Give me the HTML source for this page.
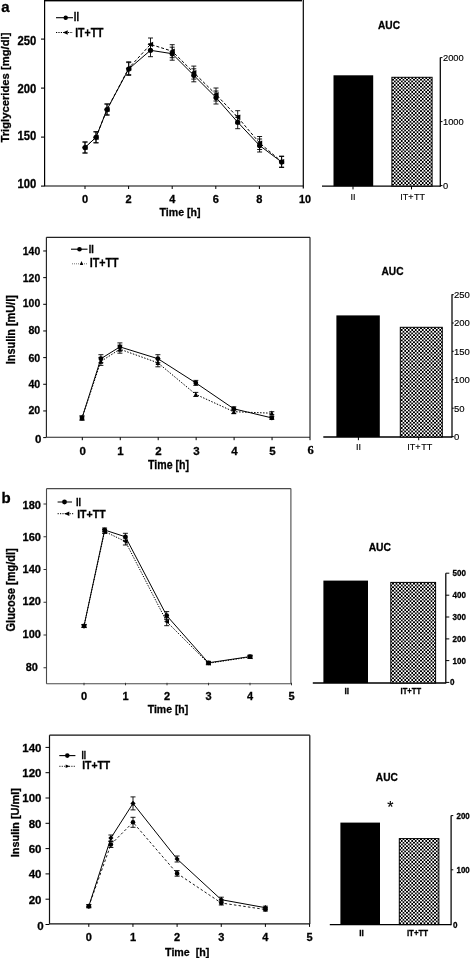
<!DOCTYPE html>
<html><head><meta charset="utf-8"><title>Figure</title>
<style>html,body{margin:0;padding:0;background:#fff;}svg{display:block;filter:grayscale(1);}</style></head><body>
<svg width="472" height="958" viewBox="0 0 472 958">
<defs><pattern id="chk" width="7" height="7" patternUnits="userSpaceOnUse" shape-rendering="crispEdges"><rect x="0" y="0" width="1" height="1" fill="#e4e4e4"/><rect x="1" y="0" width="1" height="1" fill="#d9d9d9"/><rect x="2" y="0" width="1" height="1" fill="#000000"/><rect x="3" y="0" width="1" height="1" fill="#616161"/><rect x="4" y="0" width="1" height="1" fill="#fafafa"/><rect x="5" y="0" width="1" height="1" fill="#535353"/><rect x="6" y="0" width="1" height="1" fill="#000000"/><rect x="0" y="1" width="1" height="1" fill="#d9d9d9"/><rect x="1" y="1" width="1" height="1" fill="#cfcfcf"/><rect x="2" y="1" width="1" height="1" fill="#000000"/><rect x="3" y="1" width="1" height="1" fill="#646464"/><rect x="4" y="1" width="1" height="1" fill="#fafafa"/><rect x="5" y="1" width="1" height="1" fill="#585858"/><rect x="6" y="1" width="1" height="1" fill="#020202"/><rect x="0" y="2" width="1" height="1" fill="#000000"/><rect x="1" y="2" width="1" height="1" fill="#000000"/><rect x="2" y="2" width="1" height="1" fill="#fafafa"/><rect x="3" y="2" width="1" height="1" fill="#a4a4a4"/><rect x="4" y="2" width="1" height="1" fill="#000000"/><rect x="5" y="2" width="1" height="1" fill="#b7b7b7"/><rect x="6" y="2" width="1" height="1" fill="#fafafa"/><rect x="0" y="3" width="1" height="1" fill="#616161"/><rect x="1" y="3" width="1" height="1" fill="#646464"/><rect x="2" y="3" width="1" height="1" fill="#a4a4a4"/><rect x="3" y="3" width="1" height="1" fill="#858585"/><rect x="4" y="3" width="1" height="1" fill="#535353"/><rect x="5" y="3" width="1" height="1" fill="#888888"/><rect x="6" y="3" width="1" height="1" fill="#a2a2a2"/><rect x="0" y="4" width="1" height="1" fill="#fafafa"/><rect x="1" y="4" width="1" height="1" fill="#fafafa"/><rect x="2" y="4" width="1" height="1" fill="#000000"/><rect x="3" y="4" width="1" height="1" fill="#535353"/><rect x="4" y="4" width="1" height="1" fill="#fafafa"/><rect x="5" y="4" width="1" height="1" fill="#3e3e3e"/><rect x="6" y="4" width="1" height="1" fill="#000000"/><rect x="0" y="5" width="1" height="1" fill="#535353"/><rect x="1" y="5" width="1" height="1" fill="#585858"/><rect x="2" y="5" width="1" height="1" fill="#b7b7b7"/><rect x="3" y="5" width="1" height="1" fill="#888888"/><rect x="4" y="5" width="1" height="1" fill="#3e3e3e"/><rect x="5" y="5" width="1" height="1" fill="#8e8e8e"/><rect x="6" y="5" width="1" height="1" fill="#b5b5b5"/><rect x="0" y="6" width="1" height="1" fill="#000000"/><rect x="1" y="6" width="1" height="1" fill="#020202"/><rect x="2" y="6" width="1" height="1" fill="#fafafa"/><rect x="3" y="6" width="1" height="1" fill="#a2a2a2"/><rect x="4" y="6" width="1" height="1" fill="#000000"/><rect x="5" y="6" width="1" height="1" fill="#b5b5b5"/><rect x="6" y="6" width="1" height="1" fill="#fafafa"/></pattern></defs>
<rect width="472" height="958" fill="#fff"/>
<g opacity="0.999">
<rect x="44.6" y="0" width="257.4" height="1.4" fill="#000"/>
<line x1="44.6" y1="0" x2="44.6" y2="186" stroke="#000" stroke-width="1.2"/>
<line x1="44.1" y1="186" x2="303.3" y2="186" stroke="#000" stroke-width="1.2"/>
<line x1="303.3" y1="0" x2="303.3" y2="188.5" stroke="#000" stroke-width="1.2"/>
<text x="1.2" y="11.6" font-size="15" text-anchor="start" font-family='"Liberation Sans", sans-serif' fill="#000" font-weight="bold" stroke="#000" stroke-width="0.3" >a</text>
<line x1="41.0" y1="186.1" x2="44.6" y2="186.1" stroke="#000" stroke-width="1.1"/>
<text x="36.3" y="188.3" font-size="12" text-anchor="end" font-family='"Liberation Sans", sans-serif' fill="#000" font-weight="bold" stroke="#000" stroke-width="0.3" textLength="18.8" lengthAdjust="spacingAndGlyphs" >100</text>
<line x1="41.0" y1="137.1" x2="44.6" y2="137.1" stroke="#000" stroke-width="1.1"/>
<text x="36.3" y="139.9" font-size="12" text-anchor="end" font-family='"Liberation Sans", sans-serif' fill="#000" font-weight="bold" stroke="#000" stroke-width="0.3" textLength="18.8" lengthAdjust="spacingAndGlyphs" >150</text>
<line x1="41.0" y1="88.1" x2="44.6" y2="88.1" stroke="#000" stroke-width="1.1"/>
<text x="36.3" y="92.5" font-size="12" text-anchor="end" font-family='"Liberation Sans", sans-serif' fill="#000" font-weight="bold" stroke="#000" stroke-width="0.3" textLength="18.8" lengthAdjust="spacingAndGlyphs" >200</text>
<line x1="41.0" y1="39.099999999999994" x2="44.6" y2="39.099999999999994" stroke="#000" stroke-width="1.1"/>
<text x="36.3" y="44.699999999999996" font-size="12" text-anchor="end" font-family='"Liberation Sans", sans-serif' fill="#000" font-weight="bold" stroke="#000" stroke-width="0.3" textLength="18.8" lengthAdjust="spacingAndGlyphs" >250</text>
<line x1="85.0" y1="186" x2="85.0" y2="189" stroke="#000" stroke-width="1"/>
<text x="85.0" y="203.2" font-size="11" text-anchor="middle" font-family='"Liberation Sans", sans-serif' fill="#000" font-weight="bold" stroke="#000" stroke-width="0.3" >0</text>
<line x1="128.6" y1="186" x2="128.6" y2="189" stroke="#000" stroke-width="1"/>
<text x="128.6" y="203.2" font-size="11" text-anchor="middle" font-family='"Liberation Sans", sans-serif' fill="#000" font-weight="bold" stroke="#000" stroke-width="0.3" >2</text>
<line x1="172.2" y1="186" x2="172.2" y2="189" stroke="#000" stroke-width="1"/>
<text x="172.2" y="203.2" font-size="11" text-anchor="middle" font-family='"Liberation Sans", sans-serif' fill="#000" font-weight="bold" stroke="#000" stroke-width="0.3" >4</text>
<line x1="215.8" y1="186" x2="215.8" y2="189" stroke="#000" stroke-width="1"/>
<text x="215.8" y="203.2" font-size="11" text-anchor="middle" font-family='"Liberation Sans", sans-serif' fill="#000" font-weight="bold" stroke="#000" stroke-width="0.3" >6</text>
<line x1="259.4" y1="186" x2="259.4" y2="189" stroke="#000" stroke-width="1"/>
<text x="259.4" y="203.2" font-size="11" text-anchor="middle" font-family='"Liberation Sans", sans-serif' fill="#000" font-weight="bold" stroke="#000" stroke-width="0.3" >8</text>
<text x="305.0" y="203.2" font-size="11" text-anchor="middle" font-family='"Liberation Sans", sans-serif' fill="#000" font-weight="bold" stroke="#000" stroke-width="0.3" textLength="12" lengthAdjust="spacingAndGlyphs" >10</text>
<text x="180" y="216.2" font-size="11.5" text-anchor="middle" font-family='"Liberation Sans", sans-serif' fill="#000" font-weight="bold" stroke="#000" stroke-width="0.3" textLength="41" lengthAdjust="spacingAndGlyphs" >Time [h]</text>
<text x="9" y="87.6" font-size="11" text-anchor="middle" font-family='"Liberation Sans", sans-serif' fill="#000" font-weight="bold" stroke="#000" stroke-width="0.3" textLength="110" lengthAdjust="spacingAndGlyphs" transform="rotate(-90 9 87.6)" >Triglycerides [mg/dl]</text>
<line x1="56" y1="17.7" x2="73" y2="17.7" stroke="#000" stroke-width="1.1"/>
<circle cx="65.7" cy="17.7" r="2.2" fill="#000"/>
<text x="73.8" y="21.3" font-size="12" text-anchor="start" font-family='"Liberation Sans", sans-serif' fill="#000" font-weight="bold" stroke="#000" stroke-width="0.3" textLength="5.2" lengthAdjust="spacingAndGlyphs" >II</text>
<line x1="56" y1="32.5" x2="73" y2="32.5" stroke="#000" stroke-width="1" stroke-dasharray="1.2,1.2"/>
<path d="M62.9,32.5 L67.7,30.3 L67.7,34.7 Z" fill="#000"/>
<text x="75.2" y="36.9" font-size="12" text-anchor="start" font-family='"Liberation Sans", sans-serif' fill="#000" font-weight="bold" stroke="#000" stroke-width="0.3" textLength="28.3" lengthAdjust="spacingAndGlyphs" >IT+TT</text>
<polyline points="85,147.5 96,137.3 107,109.5 128.7,68.2 150.5,44.4 172.2,51.2 193.8,72.6 216,94.5 237.7,117.2 259.6,143 281.6,161.6" fill="none" stroke="#000" stroke-width="1" stroke-dasharray="3,2"/>
<line x1="85" y1="142.0" x2="85" y2="153.0" stroke="#000" stroke-width="0.9"/>
<line x1="82.5" y1="142.0" x2="87.5" y2="142.0" stroke="#000" stroke-width="0.9"/>
<line x1="82.5" y1="153.0" x2="87.5" y2="153.0" stroke="#000" stroke-width="0.9"/>
<path d="M82.0,147.5 L87.6,144.9 L87.6,150.1 Z" fill="#000"/>
<line x1="96" y1="131.8" x2="96" y2="142.8" stroke="#000" stroke-width="0.9"/>
<line x1="93.5" y1="131.8" x2="98.5" y2="131.8" stroke="#000" stroke-width="0.9"/>
<line x1="93.5" y1="142.8" x2="98.5" y2="142.8" stroke="#000" stroke-width="0.9"/>
<path d="M93.0,137.3 L98.6,134.70000000000002 L98.6,139.9 Z" fill="#000"/>
<line x1="107" y1="104.0" x2="107" y2="115.0" stroke="#000" stroke-width="0.9"/>
<line x1="104.5" y1="104.0" x2="109.5" y2="104.0" stroke="#000" stroke-width="0.9"/>
<line x1="104.5" y1="115.0" x2="109.5" y2="115.0" stroke="#000" stroke-width="0.9"/>
<path d="M104.0,109.5 L109.6,106.9 L109.6,112.1 Z" fill="#000"/>
<line x1="128.7" y1="61.800000000000004" x2="128.7" y2="74.60000000000001" stroke="#000" stroke-width="0.9"/>
<line x1="126.19999999999999" y1="61.800000000000004" x2="131.2" y2="61.800000000000004" stroke="#000" stroke-width="0.9"/>
<line x1="126.19999999999999" y1="74.60000000000001" x2="131.2" y2="74.60000000000001" stroke="#000" stroke-width="0.9"/>
<path d="M125.69999999999999,68.2 L131.29999999999998,65.60000000000001 L131.29999999999998,70.8 Z" fill="#000"/>
<line x1="150.5" y1="38.0" x2="150.5" y2="50.8" stroke="#000" stroke-width="0.9"/>
<line x1="148.0" y1="38.0" x2="153.0" y2="38.0" stroke="#000" stroke-width="0.9"/>
<line x1="148.0" y1="50.8" x2="153.0" y2="50.8" stroke="#000" stroke-width="0.9"/>
<path d="M147.5,44.4 L153.1,41.8 L153.1,47.0 Z" fill="#000"/>
<line x1="172.2" y1="44.7" x2="172.2" y2="57.7" stroke="#000" stroke-width="0.9"/>
<line x1="169.7" y1="44.7" x2="174.7" y2="44.7" stroke="#000" stroke-width="0.9"/>
<line x1="169.7" y1="57.7" x2="174.7" y2="57.7" stroke="#000" stroke-width="0.9"/>
<path d="M169.2,51.2 L174.79999999999998,48.6 L174.79999999999998,53.800000000000004 Z" fill="#000"/>
<line x1="193.8" y1="66.1" x2="193.8" y2="79.1" stroke="#000" stroke-width="0.9"/>
<line x1="191.3" y1="66.1" x2="196.3" y2="66.1" stroke="#000" stroke-width="0.9"/>
<line x1="191.3" y1="79.1" x2="196.3" y2="79.1" stroke="#000" stroke-width="0.9"/>
<path d="M190.8,72.6 L196.4,70.0 L196.4,75.19999999999999 Z" fill="#000"/>
<line x1="216" y1="88.0" x2="216" y2="101.0" stroke="#000" stroke-width="0.9"/>
<line x1="213.5" y1="88.0" x2="218.5" y2="88.0" stroke="#000" stroke-width="0.9"/>
<line x1="213.5" y1="101.0" x2="218.5" y2="101.0" stroke="#000" stroke-width="0.9"/>
<path d="M213.0,94.5 L218.6,91.9 L218.6,97.1 Z" fill="#000"/>
<line x1="237.7" y1="110.7" x2="237.7" y2="123.7" stroke="#000" stroke-width="0.9"/>
<line x1="235.2" y1="110.7" x2="240.2" y2="110.7" stroke="#000" stroke-width="0.9"/>
<line x1="235.2" y1="123.7" x2="240.2" y2="123.7" stroke="#000" stroke-width="0.9"/>
<path d="M234.7,117.2 L240.29999999999998,114.60000000000001 L240.29999999999998,119.8 Z" fill="#000"/>
<line x1="259.6" y1="136.5" x2="259.6" y2="149.5" stroke="#000" stroke-width="0.9"/>
<line x1="257.1" y1="136.5" x2="262.1" y2="136.5" stroke="#000" stroke-width="0.9"/>
<line x1="257.1" y1="149.5" x2="262.1" y2="149.5" stroke="#000" stroke-width="0.9"/>
<path d="M256.6,143 L262.20000000000005,140.4 L262.20000000000005,145.6 Z" fill="#000"/>
<line x1="281.6" y1="156.1" x2="281.6" y2="167.1" stroke="#000" stroke-width="0.9"/>
<line x1="279.1" y1="156.1" x2="284.1" y2="156.1" stroke="#000" stroke-width="0.9"/>
<line x1="279.1" y1="167.1" x2="284.1" y2="167.1" stroke="#000" stroke-width="0.9"/>
<path d="M278.6,161.6 L284.20000000000005,159.0 L284.20000000000005,164.2 Z" fill="#000"/>
<polyline points="85,147.5 96,137.3 107,109.5 128.7,69 150.5,50.3 172.2,53.7 193.8,75.3 216,97.5 237.7,122.2 259.6,145.5 281.6,162" fill="none" stroke="#000" stroke-width="1"/>
<line x1="85" y1="142.0" x2="85" y2="153.0" stroke="#000" stroke-width="0.9"/>
<line x1="82.5" y1="142.0" x2="87.5" y2="142.0" stroke="#000" stroke-width="0.9"/>
<line x1="82.5" y1="153.0" x2="87.5" y2="153.0" stroke="#000" stroke-width="0.9"/>
<circle cx="85" cy="147.5" r="2.6" fill="#000"/>
<line x1="96" y1="131.8" x2="96" y2="142.8" stroke="#000" stroke-width="0.9"/>
<line x1="93.5" y1="131.8" x2="98.5" y2="131.8" stroke="#000" stroke-width="0.9"/>
<line x1="93.5" y1="142.8" x2="98.5" y2="142.8" stroke="#000" stroke-width="0.9"/>
<circle cx="96" cy="137.3" r="2.6" fill="#000"/>
<line x1="107" y1="104.0" x2="107" y2="115.0" stroke="#000" stroke-width="0.9"/>
<line x1="104.5" y1="104.0" x2="109.5" y2="104.0" stroke="#000" stroke-width="0.9"/>
<line x1="104.5" y1="115.0" x2="109.5" y2="115.0" stroke="#000" stroke-width="0.9"/>
<circle cx="107" cy="109.5" r="2.6" fill="#000"/>
<line x1="128.7" y1="62.6" x2="128.7" y2="75.4" stroke="#000" stroke-width="0.9"/>
<line x1="126.19999999999999" y1="62.6" x2="131.2" y2="62.6" stroke="#000" stroke-width="0.9"/>
<line x1="126.19999999999999" y1="75.4" x2="131.2" y2="75.4" stroke="#000" stroke-width="0.9"/>
<circle cx="128.7" cy="69" r="2.6" fill="#000"/>
<line x1="150.5" y1="43.9" x2="150.5" y2="56.699999999999996" stroke="#000" stroke-width="0.9"/>
<line x1="148.0" y1="43.9" x2="153.0" y2="43.9" stroke="#000" stroke-width="0.9"/>
<line x1="148.0" y1="56.699999999999996" x2="153.0" y2="56.699999999999996" stroke="#000" stroke-width="0.9"/>
<circle cx="150.5" cy="50.3" r="2.6" fill="#000"/>
<line x1="172.2" y1="47.2" x2="172.2" y2="60.2" stroke="#000" stroke-width="0.9"/>
<line x1="169.7" y1="47.2" x2="174.7" y2="47.2" stroke="#000" stroke-width="0.9"/>
<line x1="169.7" y1="60.2" x2="174.7" y2="60.2" stroke="#000" stroke-width="0.9"/>
<circle cx="172.2" cy="53.7" r="2.6" fill="#000"/>
<line x1="193.8" y1="68.8" x2="193.8" y2="81.8" stroke="#000" stroke-width="0.9"/>
<line x1="191.3" y1="68.8" x2="196.3" y2="68.8" stroke="#000" stroke-width="0.9"/>
<line x1="191.3" y1="81.8" x2="196.3" y2="81.8" stroke="#000" stroke-width="0.9"/>
<circle cx="193.8" cy="75.3" r="2.6" fill="#000"/>
<line x1="216" y1="91.0" x2="216" y2="104.0" stroke="#000" stroke-width="0.9"/>
<line x1="213.5" y1="91.0" x2="218.5" y2="91.0" stroke="#000" stroke-width="0.9"/>
<line x1="213.5" y1="104.0" x2="218.5" y2="104.0" stroke="#000" stroke-width="0.9"/>
<circle cx="216" cy="97.5" r="2.6" fill="#000"/>
<line x1="237.7" y1="115.7" x2="237.7" y2="128.7" stroke="#000" stroke-width="0.9"/>
<line x1="235.2" y1="115.7" x2="240.2" y2="115.7" stroke="#000" stroke-width="0.9"/>
<line x1="235.2" y1="128.7" x2="240.2" y2="128.7" stroke="#000" stroke-width="0.9"/>
<circle cx="237.7" cy="122.2" r="2.6" fill="#000"/>
<line x1="259.6" y1="139.0" x2="259.6" y2="152.0" stroke="#000" stroke-width="0.9"/>
<line x1="257.1" y1="139.0" x2="262.1" y2="139.0" stroke="#000" stroke-width="0.9"/>
<line x1="257.1" y1="152.0" x2="262.1" y2="152.0" stroke="#000" stroke-width="0.9"/>
<circle cx="259.6" cy="145.5" r="2.6" fill="#000"/>
<line x1="281.6" y1="156.5" x2="281.6" y2="167.5" stroke="#000" stroke-width="0.9"/>
<line x1="279.1" y1="156.5" x2="284.1" y2="156.5" stroke="#000" stroke-width="0.9"/>
<line x1="279.1" y1="167.5" x2="284.1" y2="167.5" stroke="#000" stroke-width="0.9"/>
<circle cx="281.6" cy="162" r="2.6" fill="#000"/>
<line x1="440.3" y1="57.6" x2="440.3" y2="186.79999999999998" stroke="#000" stroke-width="1.25"/>
<line x1="322" y1="186.2" x2="440.3" y2="186.2" stroke="#000" stroke-width="1.3"/>
<line x1="440.3" y1="57.6" x2="442.5" y2="57.6" stroke="#000" stroke-width="1"/>
<text x="443" y="60.948" font-size="9.3" text-anchor="start" font-family='"Liberation Sans", sans-serif' fill="#000" stroke="#000" stroke-width="0.15" >2000</text>
<line x1="440.3" y1="121.6" x2="442.5" y2="121.6" stroke="#000" stroke-width="1"/>
<text x="443" y="124.948" font-size="9.3" text-anchor="start" font-family='"Liberation Sans", sans-serif' fill="#000" stroke="#000" stroke-width="0.15" >1000</text>
<line x1="440.3" y1="185.6" x2="442.5" y2="185.6" stroke="#000" stroke-width="1"/>
<text x="443" y="188.948" font-size="9.3" text-anchor="start" font-family='"Liberation Sans", sans-serif' fill="#000" stroke="#000" stroke-width="0.15" >0</text>
<rect x="333.5" y="75.3" width="39.69999999999999" height="110.89999999999999" fill="#000"/>
<rect x="391.9" y="77.3" width="40.200000000000045" height="108.89999999999999" fill="url(#chk)" stroke="#000" stroke-width="1"/>
<text x="389" y="29" font-size="11" text-anchor="middle" font-family='"Liberation Sans", sans-serif' fill="#000" font-weight="bold" stroke="#000" stroke-width="0.3" textLength="22" lengthAdjust="spacingAndGlyphs" >AUC</text>
<line x1="353" y1="186.2" x2="353" y2="189.39999999999998" stroke="#000" stroke-width="1"/>
<line x1="411.5" y1="186.2" x2="411.5" y2="189.39999999999998" stroke="#000" stroke-width="1"/>
<text x="353" y="200.3" font-size="9" text-anchor="middle" font-family='"Liberation Sans", sans-serif' fill="#000" stroke="#000" stroke-width="0.15" stroke="#000" stroke-width="0.4">II</text>
<text x="406.8" y="200.3" font-size="9" text-anchor="middle" font-family='"Liberation Sans", sans-serif' fill="#000" stroke="#000" stroke-width="0.15" stroke="#000" stroke-width="0.4">IT+</text>
<text x="419.6" y="200.3" font-size="9" text-anchor="middle" font-family='"Liberation Sans", sans-serif' fill="#000" stroke="#000" stroke-width="0.15" stroke="#000" stroke-width="0.4">TT</text>
<line x1="46.4" y1="237.3" x2="46.4" y2="437.2" stroke="#222" stroke-width="1.15"/>
<line x1="46.4" y1="437.2" x2="310" y2="437.2" stroke="#222" stroke-width="1.15"/>
<line x1="310" y1="237.3" x2="310" y2="437.2" stroke="#222" stroke-width="1.15"/>
<line x1="46.4" y1="237.3" x2="310" y2="237.3" stroke="#222" stroke-width="1.15"/>
<line x1="43.199999999999996" y1="437.6" x2="46.4" y2="437.6" stroke="#000" stroke-width="1"/>
<text x="41.3" y="443.1" font-size="11.5" text-anchor="end" font-family='"Liberation Sans", sans-serif' fill="#000" font-weight="bold" stroke="#000" stroke-width="0.3" >0</text>
<line x1="43.199999999999996" y1="410.94" x2="46.4" y2="410.94" stroke="#000" stroke-width="1"/>
<text x="40.2" y="414.3" font-size="11.5" text-anchor="end" font-family='"Liberation Sans", sans-serif' fill="#000" font-weight="bold" stroke="#000" stroke-width="0.3" textLength="11.8" lengthAdjust="spacingAndGlyphs" >20</text>
<line x1="43.199999999999996" y1="384.28000000000003" x2="46.4" y2="384.28000000000003" stroke="#000" stroke-width="1"/>
<text x="40.2" y="388.1" font-size="11.5" text-anchor="end" font-family='"Liberation Sans", sans-serif' fill="#000" font-weight="bold" stroke="#000" stroke-width="0.3" textLength="11.8" lengthAdjust="spacingAndGlyphs" >40</text>
<line x1="43.199999999999996" y1="357.62" x2="46.4" y2="357.62" stroke="#000" stroke-width="1"/>
<text x="40.2" y="362.1" font-size="11.5" text-anchor="end" font-family='"Liberation Sans", sans-serif' fill="#000" font-weight="bold" stroke="#000" stroke-width="0.3" textLength="11.8" lengthAdjust="spacingAndGlyphs" >60</text>
<line x1="43.199999999999996" y1="330.96000000000004" x2="46.4" y2="330.96000000000004" stroke="#000" stroke-width="1"/>
<text x="40.2" y="334.3" font-size="11.5" text-anchor="end" font-family='"Liberation Sans", sans-serif' fill="#000" font-weight="bold" stroke="#000" stroke-width="0.3" textLength="11.8" lengthAdjust="spacingAndGlyphs" >80</text>
<line x1="43.199999999999996" y1="304.30000000000007" x2="46.4" y2="304.30000000000007" stroke="#000" stroke-width="1"/>
<text x="40.2" y="307.0" font-size="11.5" text-anchor="end" font-family='"Liberation Sans", sans-serif' fill="#000" font-weight="bold" stroke="#000" stroke-width="0.3" textLength="17.4" lengthAdjust="spacingAndGlyphs" >100</text>
<line x1="43.199999999999996" y1="277.64" x2="46.4" y2="277.64" stroke="#000" stroke-width="1"/>
<text x="40.2" y="281.6" font-size="11.5" text-anchor="end" font-family='"Liberation Sans", sans-serif' fill="#000" font-weight="bold" stroke="#000" stroke-width="0.3" textLength="17.4" lengthAdjust="spacingAndGlyphs" >120</text>
<line x1="43.199999999999996" y1="250.98000000000002" x2="46.4" y2="250.98000000000002" stroke="#000" stroke-width="1"/>
<text x="40.2" y="254.5" font-size="11.5" text-anchor="end" font-family='"Liberation Sans", sans-serif' fill="#000" font-weight="bold" stroke="#000" stroke-width="0.3" textLength="17.4" lengthAdjust="spacingAndGlyphs" >140</text>
<line x1="82.3" y1="437.2" x2="82.3" y2="440.2" stroke="#000" stroke-width="1"/>
<text x="82.6" y="454.7" font-size="11.5" text-anchor="middle" font-family='"Liberation Sans", sans-serif' fill="#000" font-weight="bold" stroke="#000" stroke-width="0.3" >0</text>
<line x1="120.25" y1="437.2" x2="120.25" y2="440.2" stroke="#000" stroke-width="1"/>
<text x="120.55" y="454.7" font-size="11.5" text-anchor="middle" font-family='"Liberation Sans", sans-serif' fill="#000" font-weight="bold" stroke="#000" stroke-width="0.3" >1</text>
<line x1="158.20000000000002" y1="437.2" x2="158.20000000000002" y2="440.2" stroke="#000" stroke-width="1"/>
<text x="158.5" y="454.7" font-size="11.5" text-anchor="middle" font-family='"Liberation Sans", sans-serif' fill="#000" font-weight="bold" stroke="#000" stroke-width="0.3" >2</text>
<line x1="196.15000000000003" y1="437.2" x2="196.15000000000003" y2="440.2" stroke="#000" stroke-width="1"/>
<text x="196.45000000000002" y="454.7" font-size="11.5" text-anchor="middle" font-family='"Liberation Sans", sans-serif' fill="#000" font-weight="bold" stroke="#000" stroke-width="0.3" >3</text>
<line x1="234.10000000000002" y1="437.2" x2="234.10000000000002" y2="440.2" stroke="#000" stroke-width="1"/>
<text x="234.4" y="454.7" font-size="11.5" text-anchor="middle" font-family='"Liberation Sans", sans-serif' fill="#000" font-weight="bold" stroke="#000" stroke-width="0.3" >4</text>
<line x1="272.05" y1="437.2" x2="272.05" y2="440.2" stroke="#000" stroke-width="1"/>
<text x="272.35" y="454.7" font-size="11.5" text-anchor="middle" font-family='"Liberation Sans", sans-serif' fill="#000" font-weight="bold" stroke="#000" stroke-width="0.3" >5</text>
<line x1="310.00000000000006" y1="437.2" x2="310.00000000000006" y2="440.2" stroke="#000" stroke-width="1"/>
<text x="310.50000000000006" y="454.4" font-size="12.5" text-anchor="middle" font-family='"Liberation Serif", serif' fill="#000" font-weight="bold" stroke="#000" stroke-width="0.3" >6</text>
<text x="168.5" y="468.6" font-size="12" text-anchor="middle" font-family='"Liberation Sans", sans-serif' fill="#000" font-weight="bold" stroke="#000" stroke-width="0.3" textLength="41" lengthAdjust="spacingAndGlyphs" >Time [h]</text>
<text x="14.6" y="329.7" font-size="12" text-anchor="middle" font-family='"Liberation Sans", sans-serif' fill="#000" font-weight="bold" stroke="#000" stroke-width="0.3" textLength="69" lengthAdjust="spacingAndGlyphs" transform="rotate(-90 14.6 329.7)" >Insulin [mU/l]</text>
<line x1="71" y1="249.2" x2="87.5" y2="249.2" stroke="#000" stroke-width="1.1"/>
<circle cx="79.5" cy="249.2" r="2.3" fill="#000"/>
<text x="88.8" y="253" font-size="11.5" text-anchor="start" font-family='"Liberation Sans", sans-serif' fill="#000" font-weight="bold" stroke="#000" stroke-width="0.3" textLength="5.1" lengthAdjust="spacingAndGlyphs" >II</text>
<line x1="72" y1="263.8" x2="88" y2="263.8" stroke="#666" stroke-width="0.9" stroke-dasharray="1,1"/>
<path d="M81.5,261.1 L83.2,264.9 L79.8,264.9 Z" fill="#000"/>
<text x="89.7" y="267.3" font-size="12" text-anchor="start" font-family='"Liberation Sans", sans-serif' fill="#000" font-weight="bold" stroke="#000" stroke-width="0.3" textLength="28.8" lengthAdjust="spacingAndGlyphs" >IT+TT</text>
<polyline points="82,418 100.9,361.4 119.9,349.2 157.9,362.8 195.8,394.4 233.8,411.7 271.8,413.2" fill="none" stroke="#000" stroke-width="1" stroke-dasharray="1.5,1.5"/>
<line x1="82" y1="416" x2="82" y2="420" stroke="#000" stroke-width="0.9"/>
<line x1="79.5" y1="416" x2="84.5" y2="416" stroke="#000" stroke-width="0.9"/>
<line x1="79.5" y1="420" x2="84.5" y2="420" stroke="#000" stroke-width="0.9"/>
<path d="M82,415.3 L84.3,420.3 L79.7,420.3 Z" fill="#000"/>
<line x1="100.9" y1="357.4" x2="100.9" y2="365.4" stroke="#000" stroke-width="0.9"/>
<line x1="98.4" y1="357.4" x2="103.4" y2="357.4" stroke="#000" stroke-width="0.9"/>
<line x1="98.4" y1="365.4" x2="103.4" y2="365.4" stroke="#000" stroke-width="0.9"/>
<path d="M100.9,358.7 L103.2,363.7 L98.60000000000001,363.7 Z" fill="#000"/>
<line x1="119.9" y1="345.2" x2="119.9" y2="353.2" stroke="#000" stroke-width="0.9"/>
<line x1="117.4" y1="345.2" x2="122.4" y2="345.2" stroke="#000" stroke-width="0.9"/>
<line x1="117.4" y1="353.2" x2="122.4" y2="353.2" stroke="#000" stroke-width="0.9"/>
<path d="M119.9,346.5 L122.2,351.5 L117.60000000000001,351.5 Z" fill="#000"/>
<line x1="157.9" y1="358.8" x2="157.9" y2="366.8" stroke="#000" stroke-width="0.9"/>
<line x1="155.4" y1="358.8" x2="160.4" y2="358.8" stroke="#000" stroke-width="0.9"/>
<line x1="155.4" y1="366.8" x2="160.4" y2="366.8" stroke="#000" stroke-width="0.9"/>
<path d="M157.9,360.1 L160.20000000000002,365.1 L155.6,365.1 Z" fill="#000"/>
<line x1="195.8" y1="392.4" x2="195.8" y2="396.4" stroke="#000" stroke-width="0.9"/>
<line x1="193.3" y1="392.4" x2="198.3" y2="392.4" stroke="#000" stroke-width="0.9"/>
<line x1="193.3" y1="396.4" x2="198.3" y2="396.4" stroke="#000" stroke-width="0.9"/>
<path d="M195.8,391.7 L198.10000000000002,396.7 L193.5,396.7 Z" fill="#000"/>
<line x1="233.8" y1="409.7" x2="233.8" y2="413.7" stroke="#000" stroke-width="0.9"/>
<line x1="231.3" y1="409.7" x2="236.3" y2="409.7" stroke="#000" stroke-width="0.9"/>
<line x1="231.3" y1="413.7" x2="236.3" y2="413.7" stroke="#000" stroke-width="0.9"/>
<path d="M233.8,409.0 L236.10000000000002,414.0 L231.5,414.0 Z" fill="#000"/>
<line x1="271.8" y1="411.7" x2="271.8" y2="414.7" stroke="#000" stroke-width="0.9"/>
<line x1="269.3" y1="411.7" x2="274.3" y2="411.7" stroke="#000" stroke-width="0.9"/>
<line x1="269.3" y1="414.7" x2="274.3" y2="414.7" stroke="#000" stroke-width="0.9"/>
<path d="M271.8,410.5 L274.1,415.5 L269.5,415.5 Z" fill="#000"/>
<polyline points="82,418 100.9,358.7 119.9,346.9 157.9,358.7 195.8,382.9 233.8,408.8 271.8,417.9" fill="none" stroke="#000" stroke-width="1"/>
<line x1="82" y1="416" x2="82" y2="420" stroke="#000" stroke-width="0.9"/>
<line x1="79.5" y1="416" x2="84.5" y2="416" stroke="#000" stroke-width="0.9"/>
<line x1="79.5" y1="420" x2="84.5" y2="420" stroke="#000" stroke-width="0.9"/>
<circle cx="82" cy="418" r="2.4" fill="#000"/>
<line x1="100.9" y1="354.7" x2="100.9" y2="362.7" stroke="#000" stroke-width="0.9"/>
<line x1="98.4" y1="354.7" x2="103.4" y2="354.7" stroke="#000" stroke-width="0.9"/>
<line x1="98.4" y1="362.7" x2="103.4" y2="362.7" stroke="#000" stroke-width="0.9"/>
<circle cx="100.9" cy="358.7" r="2.4" fill="#000"/>
<line x1="119.9" y1="342.9" x2="119.9" y2="350.9" stroke="#000" stroke-width="0.9"/>
<line x1="117.4" y1="342.9" x2="122.4" y2="342.9" stroke="#000" stroke-width="0.9"/>
<line x1="117.4" y1="350.9" x2="122.4" y2="350.9" stroke="#000" stroke-width="0.9"/>
<circle cx="119.9" cy="346.9" r="2.4" fill="#000"/>
<line x1="157.9" y1="354.7" x2="157.9" y2="362.7" stroke="#000" stroke-width="0.9"/>
<line x1="155.4" y1="354.7" x2="160.4" y2="354.7" stroke="#000" stroke-width="0.9"/>
<line x1="155.4" y1="362.7" x2="160.4" y2="362.7" stroke="#000" stroke-width="0.9"/>
<circle cx="157.9" cy="358.7" r="2.4" fill="#000"/>
<line x1="195.8" y1="380.4" x2="195.8" y2="385.4" stroke="#000" stroke-width="0.9"/>
<line x1="193.3" y1="380.4" x2="198.3" y2="380.4" stroke="#000" stroke-width="0.9"/>
<line x1="193.3" y1="385.4" x2="198.3" y2="385.4" stroke="#000" stroke-width="0.9"/>
<circle cx="195.8" cy="382.9" r="2.4" fill="#000"/>
<line x1="233.8" y1="406.8" x2="233.8" y2="410.8" stroke="#000" stroke-width="0.9"/>
<line x1="231.3" y1="406.8" x2="236.3" y2="406.8" stroke="#000" stroke-width="0.9"/>
<line x1="231.3" y1="410.8" x2="236.3" y2="410.8" stroke="#000" stroke-width="0.9"/>
<circle cx="233.8" cy="408.8" r="2.4" fill="#000"/>
<line x1="271.8" y1="416.4" x2="271.8" y2="419.4" stroke="#000" stroke-width="0.9"/>
<line x1="269.3" y1="416.4" x2="274.3" y2="416.4" stroke="#000" stroke-width="0.9"/>
<line x1="269.3" y1="419.4" x2="274.3" y2="419.4" stroke="#000" stroke-width="0.9"/>
<circle cx="271.8" cy="417.9" r="2.4" fill="#000"/>
<line x1="452" y1="294.3" x2="452" y2="437.6" stroke="#000" stroke-width="1.25"/>
<line x1="323.3" y1="437" x2="452" y2="437" stroke="#000" stroke-width="1.3"/>
<line x1="452" y1="294.7" x2="453.8" y2="294.7" stroke="#000" stroke-width="1"/>
<text x="454" y="298.12" font-size="9.5" text-anchor="start" font-family='"Liberation Sans", sans-serif' fill="#000" stroke="#000" stroke-width="0.15" >250</text>
<line x1="452" y1="323" x2="453.8" y2="323" stroke="#000" stroke-width="1"/>
<text x="454" y="326.42" font-size="9.5" text-anchor="start" font-family='"Liberation Sans", sans-serif' fill="#000" stroke="#000" stroke-width="0.15" >200</text>
<line x1="452" y1="351.3" x2="453.8" y2="351.3" stroke="#000" stroke-width="1"/>
<text x="454" y="354.72" font-size="9.5" text-anchor="start" font-family='"Liberation Sans", sans-serif' fill="#000" stroke="#000" stroke-width="0.15" >150</text>
<line x1="452" y1="379.7" x2="453.8" y2="379.7" stroke="#000" stroke-width="1"/>
<text x="454" y="383.12" font-size="9.5" text-anchor="start" font-family='"Liberation Sans", sans-serif' fill="#000" stroke="#000" stroke-width="0.15" >100</text>
<line x1="452" y1="408.2" x2="453.8" y2="408.2" stroke="#000" stroke-width="1"/>
<text x="454" y="411.62" font-size="9.5" text-anchor="start" font-family='"Liberation Sans", sans-serif' fill="#000" stroke="#000" stroke-width="0.15" >50</text>
<line x1="452" y1="436.6" x2="453.8" y2="436.6" stroke="#000" stroke-width="1"/>
<text x="454" y="440.02000000000004" font-size="9.5" text-anchor="start" font-family='"Liberation Sans", sans-serif' fill="#000" stroke="#000" stroke-width="0.15" >0</text>
<rect x="336.4" y="315.4" width="43.400000000000034" height="121.60000000000002" fill="#000"/>
<rect x="400.3" y="327.3" width="42.0" height="109.69999999999999" fill="url(#chk)" stroke="#000" stroke-width="1"/>
<text x="392.5" y="275.4" font-size="11" text-anchor="middle" font-family='"Liberation Sans", sans-serif' fill="#000" font-weight="bold" stroke="#000" stroke-width="0.3" textLength="22" lengthAdjust="spacingAndGlyphs" >AUC</text>
<line x1="358.4" y1="437" x2="358.4" y2="440.2" stroke="#000" stroke-width="1"/>
<line x1="418.7" y1="437" x2="418.7" y2="440.2" stroke="#000" stroke-width="1"/>
<text x="358.4" y="450" font-size="9" text-anchor="middle" font-family='"Liberation Sans", sans-serif' fill="#000" stroke="#000" stroke-width="0.15" stroke="#000" stroke-width="0.4">II</text>
<text x="414.0" y="450" font-size="9" text-anchor="middle" font-family='"Liberation Sans", sans-serif' fill="#000" stroke="#000" stroke-width="0.15" stroke="#000" stroke-width="0.4">IT+</text>
<text x="426.8" y="450" font-size="9" text-anchor="middle" font-family='"Liberation Sans", sans-serif' fill="#000" stroke="#000" stroke-width="0.15" stroke="#000" stroke-width="0.4">TT</text>
<line x1="46.5" y1="488.6" x2="46.5" y2="683.8" stroke="#4a4a4a" stroke-width="1.1"/>
<line x1="46.5" y1="683.8" x2="290.9" y2="683.8" stroke="#4a4a4a" stroke-width="1.1"/>
<line x1="290.9" y1="488.6" x2="290.9" y2="683.8" stroke="#4a4a4a" stroke-width="1.1"/>
<line x1="46.5" y1="488.6" x2="290.9" y2="488.6" stroke="#4a4a4a" stroke-width="1.1"/>
<text x="1.5" y="503" font-size="15" text-anchor="start" font-family='"Liberation Sans", sans-serif' fill="#000" font-weight="bold" stroke="#000" stroke-width="0.3" >b</text>
<line x1="43.5" y1="667.75" x2="46.5" y2="667.75" stroke="#333" stroke-width="1"/>
<text x="31.8" y="671.3" font-size="11" text-anchor="middle" font-family='"Liberation Sans", sans-serif' fill="#000" font-weight="bold" stroke="#000" stroke-width="0.3" textLength="12.2" lengthAdjust="spacingAndGlyphs" >80</text>
<line x1="43.5" y1="635.0" x2="46.5" y2="635.0" stroke="#333" stroke-width="1"/>
<text x="31.8" y="638.0" font-size="11" text-anchor="middle" font-family='"Liberation Sans", sans-serif' fill="#000" font-weight="bold" stroke="#000" stroke-width="0.3" textLength="18.4" lengthAdjust="spacingAndGlyphs" >100</text>
<line x1="43.5" y1="602.25" x2="46.5" y2="602.25" stroke="#333" stroke-width="1"/>
<text x="31.8" y="604.8" font-size="11" text-anchor="middle" font-family='"Liberation Sans", sans-serif' fill="#000" font-weight="bold" stroke="#000" stroke-width="0.3" textLength="18.4" lengthAdjust="spacingAndGlyphs" >120</text>
<line x1="43.5" y1="569.5" x2="46.5" y2="569.5" stroke="#333" stroke-width="1"/>
<text x="31.8" y="572.7" font-size="11" text-anchor="middle" font-family='"Liberation Sans", sans-serif' fill="#000" font-weight="bold" stroke="#000" stroke-width="0.3" textLength="18.4" lengthAdjust="spacingAndGlyphs" >140</text>
<line x1="43.5" y1="536.75" x2="46.5" y2="536.75" stroke="#333" stroke-width="1"/>
<text x="31.8" y="540.6" font-size="11" text-anchor="middle" font-family='"Liberation Sans", sans-serif' fill="#000" font-weight="bold" stroke="#000" stroke-width="0.3" textLength="18.4" lengthAdjust="spacingAndGlyphs" >160</text>
<line x1="43.5" y1="504.0" x2="46.5" y2="504.0" stroke="#333" stroke-width="1"/>
<text x="31.8" y="508.7" font-size="11" text-anchor="middle" font-family='"Liberation Sans", sans-serif' fill="#000" font-weight="bold" stroke="#000" stroke-width="0.3" textLength="18.4" lengthAdjust="spacingAndGlyphs" >180</text>
<line x1="84.0" y1="682.8" x2="84.0" y2="685.3" stroke="#333" stroke-width="1"/>
<text x="84.0" y="700.4" font-size="11" text-anchor="middle" font-family='"Liberation Sans", sans-serif' fill="#000" font-weight="bold" stroke="#000" stroke-width="0.3" >0</text>
<line x1="125.5" y1="682.8" x2="125.5" y2="685.3" stroke="#333" stroke-width="1"/>
<text x="125.5" y="700.4" font-size="11" text-anchor="middle" font-family='"Liberation Sans", sans-serif' fill="#000" font-weight="bold" stroke="#000" stroke-width="0.3" >1</text>
<line x1="167.0" y1="682.8" x2="167.0" y2="685.3" stroke="#333" stroke-width="1"/>
<text x="167.0" y="700.4" font-size="11" text-anchor="middle" font-family='"Liberation Sans", sans-serif' fill="#000" font-weight="bold" stroke="#000" stroke-width="0.3" >2</text>
<line x1="208.5" y1="682.8" x2="208.5" y2="685.3" stroke="#333" stroke-width="1"/>
<text x="208.5" y="700.4" font-size="11" text-anchor="middle" font-family='"Liberation Sans", sans-serif' fill="#000" font-weight="bold" stroke="#000" stroke-width="0.3" >3</text>
<line x1="250.0" y1="682.8" x2="250.0" y2="685.3" stroke="#333" stroke-width="1"/>
<text x="250.0" y="700.4" font-size="11" text-anchor="middle" font-family='"Liberation Sans", sans-serif' fill="#000" font-weight="bold" stroke="#000" stroke-width="0.3" >4</text>
<line x1="291.5" y1="682.8" x2="291.5" y2="685.3" stroke="#333" stroke-width="1"/>
<text x="291.5" y="700.4" font-size="11" text-anchor="middle" font-family='"Liberation Sans", sans-serif' fill="#000" font-weight="bold" stroke="#000" stroke-width="0.3" >5</text>
<text x="168" y="713.4" font-size="11" text-anchor="middle" font-family='"Liberation Sans", sans-serif' fill="#000" font-weight="bold" stroke="#000" stroke-width="0.3" textLength="40.5" lengthAdjust="spacingAndGlyphs" >Time [h]</text>
<text x="14.6" y="589.9" font-size="12" text-anchor="middle" font-family='"Liberation Sans", sans-serif' fill="#000" font-weight="bold" stroke="#000" stroke-width="0.3" textLength="83.2" lengthAdjust="spacingAndGlyphs" transform="rotate(-90 14.6 589.9)" >Glucose [mg/dl]</text>
<line x1="57.6" y1="502" x2="72" y2="502" stroke="#000" stroke-width="1"/>
<circle cx="64.5" cy="502" r="2.4" fill="#000"/>
<text x="76" y="506.3" font-size="11.5" text-anchor="start" font-family='"Liberation Sans", sans-serif' fill="#000" font-weight="bold" stroke="#000" stroke-width="0.3" textLength="5.1" lengthAdjust="spacingAndGlyphs" >II</text>
<line x1="57.6" y1="513.7" x2="74" y2="513.7" stroke="#000" stroke-width="1" stroke-dasharray="1.2,1.2"/>
<path d="M64.3,513.7 L69.3,511.40000000000003 L69.3,516.0 Z" fill="#000"/>
<text x="77.2" y="518" font-size="11.5" text-anchor="start" font-family='"Liberation Sans", sans-serif' fill="#000" font-weight="bold" stroke="#000" stroke-width="0.3" textLength="28.4" lengthAdjust="spacingAndGlyphs" >IT+TT</text>
<polyline points="84,626 104.6,531.5 125.4,541.5 166.7,621.7 208.4,663.3 250,657" fill="none" stroke="#000" stroke-width="1" stroke-dasharray="1.3,1.3"/>
<line x1="84" y1="624.5" x2="84" y2="627.5" stroke="#000" stroke-width="0.9"/>
<line x1="81.5" y1="624.5" x2="86.5" y2="624.5" stroke="#000" stroke-width="0.9"/>
<line x1="81.5" y1="627.5" x2="86.5" y2="627.5" stroke="#000" stroke-width="0.9"/>
<path d="M81.3,626 L86.3,623.7 L86.3,628.3 Z" fill="#000"/>
<line x1="104.6" y1="529.5" x2="104.6" y2="533.5" stroke="#000" stroke-width="0.9"/>
<line x1="102.1" y1="529.5" x2="107.1" y2="529.5" stroke="#000" stroke-width="0.9"/>
<line x1="102.1" y1="533.5" x2="107.1" y2="533.5" stroke="#000" stroke-width="0.9"/>
<path d="M101.89999999999999,531.5 L106.89999999999999,529.2 L106.89999999999999,533.8 Z" fill="#000"/>
<line x1="125.4" y1="538.0" x2="125.4" y2="545.0" stroke="#000" stroke-width="0.9"/>
<line x1="122.9" y1="538.0" x2="127.9" y2="538.0" stroke="#000" stroke-width="0.9"/>
<line x1="122.9" y1="545.0" x2="127.9" y2="545.0" stroke="#000" stroke-width="0.9"/>
<path d="M122.7,541.5 L127.7,539.2 L127.7,543.8 Z" fill="#000"/>
<line x1="166.7" y1="617.7" x2="166.7" y2="625.7" stroke="#000" stroke-width="0.9"/>
<line x1="164.2" y1="617.7" x2="169.2" y2="617.7" stroke="#000" stroke-width="0.9"/>
<line x1="164.2" y1="625.7" x2="169.2" y2="625.7" stroke="#000" stroke-width="0.9"/>
<path d="M163.99999999999997,621.7 L169.0,619.4000000000001 L169.0,624.0 Z" fill="#000"/>
<line x1="208.4" y1="661.8" x2="208.4" y2="664.8" stroke="#000" stroke-width="0.9"/>
<line x1="205.9" y1="661.8" x2="210.9" y2="661.8" stroke="#000" stroke-width="0.9"/>
<line x1="205.9" y1="664.8" x2="210.9" y2="664.8" stroke="#000" stroke-width="0.9"/>
<path d="M205.7,663.3 L210.70000000000002,661.0 L210.70000000000002,665.5999999999999 Z" fill="#000"/>
<line x1="250" y1="655.5" x2="250" y2="658.5" stroke="#000" stroke-width="0.9"/>
<line x1="247.5" y1="655.5" x2="252.5" y2="655.5" stroke="#000" stroke-width="0.9"/>
<line x1="247.5" y1="658.5" x2="252.5" y2="658.5" stroke="#000" stroke-width="0.9"/>
<path d="M247.29999999999998,657 L252.3,654.7 L252.3,659.3 Z" fill="#000"/>
<polyline points="84,626 104.6,530 125.4,536.8 166.7,615.6 208.4,662.8 250,656.6" fill="none" stroke="#000" stroke-width="1"/>
<line x1="84" y1="624.5" x2="84" y2="627.5" stroke="#000" stroke-width="0.9"/>
<line x1="81.5" y1="624.5" x2="86.5" y2="624.5" stroke="#000" stroke-width="0.9"/>
<line x1="81.5" y1="627.5" x2="86.5" y2="627.5" stroke="#000" stroke-width="0.9"/>
<circle cx="84" cy="626" r="2.4" fill="#000"/>
<line x1="104.6" y1="528" x2="104.6" y2="532" stroke="#000" stroke-width="0.9"/>
<line x1="102.1" y1="528" x2="107.1" y2="528" stroke="#000" stroke-width="0.9"/>
<line x1="102.1" y1="532" x2="107.1" y2="532" stroke="#000" stroke-width="0.9"/>
<circle cx="104.6" cy="530" r="2.4" fill="#000"/>
<line x1="125.4" y1="533.3" x2="125.4" y2="540.3" stroke="#000" stroke-width="0.9"/>
<line x1="122.9" y1="533.3" x2="127.9" y2="533.3" stroke="#000" stroke-width="0.9"/>
<line x1="122.9" y1="540.3" x2="127.9" y2="540.3" stroke="#000" stroke-width="0.9"/>
<circle cx="125.4" cy="536.8" r="2.4" fill="#000"/>
<line x1="166.7" y1="611.6" x2="166.7" y2="619.6" stroke="#000" stroke-width="0.9"/>
<line x1="164.2" y1="611.6" x2="169.2" y2="611.6" stroke="#000" stroke-width="0.9"/>
<line x1="164.2" y1="619.6" x2="169.2" y2="619.6" stroke="#000" stroke-width="0.9"/>
<circle cx="166.7" cy="615.6" r="2.4" fill="#000"/>
<line x1="208.4" y1="661.3" x2="208.4" y2="664.3" stroke="#000" stroke-width="0.9"/>
<line x1="205.9" y1="661.3" x2="210.9" y2="661.3" stroke="#000" stroke-width="0.9"/>
<line x1="205.9" y1="664.3" x2="210.9" y2="664.3" stroke="#000" stroke-width="0.9"/>
<circle cx="208.4" cy="662.8" r="2.4" fill="#000"/>
<line x1="250" y1="655.1" x2="250" y2="658.1" stroke="#000" stroke-width="0.9"/>
<line x1="247.5" y1="655.1" x2="252.5" y2="655.1" stroke="#000" stroke-width="0.9"/>
<line x1="247.5" y1="658.1" x2="252.5" y2="658.1" stroke="#000" stroke-width="0.9"/>
<circle cx="250" cy="656.6" r="2.4" fill="#000"/>
<line x1="445.8" y1="573.2" x2="445.8" y2="683.6" stroke="#000" stroke-width="1.25"/>
<line x1="312.8" y1="683" x2="445.8" y2="683" stroke="#000" stroke-width="1.3"/>
<line x1="445.8" y1="573.2" x2="449.3" y2="573.2" stroke="#000" stroke-width="1"/>
<text x="452.6" y="576.26" font-size="8.5" text-anchor="start" font-family='"Liberation Sans", sans-serif' fill="#000" font-weight="bold" stroke="#000" stroke-width="0.3" textLength="13.4" lengthAdjust="spacingAndGlyphs" >500</text>
<line x1="445.8" y1="595.2" x2="449.3" y2="595.2" stroke="#000" stroke-width="1"/>
<text x="452.6" y="598.26" font-size="8.5" text-anchor="start" font-family='"Liberation Sans", sans-serif' fill="#000" font-weight="bold" stroke="#000" stroke-width="0.3" textLength="13.4" lengthAdjust="spacingAndGlyphs" >400</text>
<line x1="445.8" y1="617" x2="449.3" y2="617" stroke="#000" stroke-width="1"/>
<text x="452.6" y="620.06" font-size="8.5" text-anchor="start" font-family='"Liberation Sans", sans-serif' fill="#000" font-weight="bold" stroke="#000" stroke-width="0.3" textLength="13.4" lengthAdjust="spacingAndGlyphs" >300</text>
<line x1="445.8" y1="638.9" x2="449.3" y2="638.9" stroke="#000" stroke-width="1"/>
<text x="452.6" y="641.9599999999999" font-size="8.5" text-anchor="start" font-family='"Liberation Sans", sans-serif' fill="#000" font-weight="bold" stroke="#000" stroke-width="0.3" textLength="13.4" lengthAdjust="spacingAndGlyphs" >200</text>
<line x1="445.8" y1="660.6" x2="449.3" y2="660.6" stroke="#000" stroke-width="1"/>
<text x="452.6" y="663.66" font-size="8.5" text-anchor="start" font-family='"Liberation Sans", sans-serif' fill="#000" font-weight="bold" stroke="#000" stroke-width="0.3" textLength="13.4" lengthAdjust="spacingAndGlyphs" >100</text>
<line x1="445.8" y1="682.4" x2="449.3" y2="682.4" stroke="#000" stroke-width="1"/>
<text x="450" y="685.4599999999999" font-size="8.5" text-anchor="start" font-family='"Liberation Sans", sans-serif' fill="#000" font-weight="bold" stroke="#000" stroke-width="0.3" textLength="4.5" lengthAdjust="spacingAndGlyphs" >0</text>
<rect x="323.4" y="580.6" width="44.60000000000002" height="102.39999999999998" fill="#000"/>
<rect x="390.8" y="582.4" width="44.80000000000001" height="100.60000000000002" fill="url(#chk)" stroke="#000" stroke-width="1"/>
<text x="379.8" y="550.6" font-size="11" text-anchor="middle" font-family='"Liberation Sans", sans-serif' fill="#000" font-weight="bold" stroke="#000" stroke-width="0.3" textLength="22.3" lengthAdjust="spacingAndGlyphs" >AUC</text>
<text x="346.8" y="694" font-size="9" text-anchor="middle" font-family='"Liberation Sans", sans-serif' fill="#000" font-weight="bold" stroke="#000" stroke-width="0.3" textLength="4.6" lengthAdjust="spacingAndGlyphs" >II</text>
<text x="410.8" y="694" font-size="9" text-anchor="middle" font-family='"Liberation Sans", sans-serif' fill="#000" font-weight="bold" stroke="#000" stroke-width="0.3" textLength="20.5" lengthAdjust="spacingAndGlyphs" >IT+TT</text>
<line x1="49.5" y1="735.2" x2="49.5" y2="923.9" stroke="#111" stroke-width="1.2"/>
<line x1="49.5" y1="923.9" x2="309.8" y2="923.9" stroke="#111" stroke-width="1.2"/>
<line x1="309.8" y1="735.2" x2="309.8" y2="923.9" stroke="#111" stroke-width="1.2"/>
<line x1="49.5" y1="735.2" x2="309.8" y2="735.2" stroke="#111" stroke-width="1.2"/>
<line x1="45.5" y1="924.5" x2="49.5" y2="924.5" stroke="#000" stroke-width="1"/>
<text x="43.6" y="929.6999999999999" font-size="11.5" text-anchor="end" font-family='"Liberation Sans", sans-serif' fill="#000" font-weight="bold" stroke="#000" stroke-width="0.3" >0</text>
<line x1="45.5" y1="899.2" x2="49.5" y2="899.2" stroke="#000" stroke-width="1"/>
<text x="41.5" y="903.6" font-size="11.5" text-anchor="end" font-family='"Liberation Sans", sans-serif' fill="#000" font-weight="bold" stroke="#000" stroke-width="0.3" >20</text>
<line x1="45.5" y1="873.9" x2="49.5" y2="873.9" stroke="#000" stroke-width="1"/>
<text x="41.5" y="878.3" font-size="11.5" text-anchor="end" font-family='"Liberation Sans", sans-serif' fill="#000" font-weight="bold" stroke="#000" stroke-width="0.3" >40</text>
<line x1="45.5" y1="848.6" x2="49.5" y2="848.6" stroke="#000" stroke-width="1"/>
<text x="41.5" y="853.0" font-size="11.5" text-anchor="end" font-family='"Liberation Sans", sans-serif' fill="#000" font-weight="bold" stroke="#000" stroke-width="0.3" >60</text>
<line x1="45.5" y1="823.3" x2="49.5" y2="823.3" stroke="#000" stroke-width="1"/>
<text x="41.5" y="827.6999999999999" font-size="11.5" text-anchor="end" font-family='"Liberation Sans", sans-serif' fill="#000" font-weight="bold" stroke="#000" stroke-width="0.3" >80</text>
<line x1="45.5" y1="798.0" x2="49.5" y2="798.0" stroke="#000" stroke-width="1"/>
<text x="41.5" y="802.4" font-size="11.5" text-anchor="end" font-family='"Liberation Sans", sans-serif' fill="#000" font-weight="bold" stroke="#000" stroke-width="0.3" >100</text>
<line x1="45.5" y1="772.7" x2="49.5" y2="772.7" stroke="#000" stroke-width="1"/>
<text x="41.5" y="777.1" font-size="11.5" text-anchor="end" font-family='"Liberation Sans", sans-serif' fill="#000" font-weight="bold" stroke="#000" stroke-width="0.3" >120</text>
<line x1="45.5" y1="747.4" x2="49.5" y2="747.4" stroke="#000" stroke-width="1"/>
<text x="41.5" y="751.8" font-size="11.5" text-anchor="end" font-family='"Liberation Sans", sans-serif' fill="#000" font-weight="bold" stroke="#000" stroke-width="0.3" >140</text>
<line x1="88.8" y1="923.9" x2="88.8" y2="926.9" stroke="#000" stroke-width="1"/>
<text x="88.8" y="941" font-size="11" text-anchor="middle" font-family='"Liberation Sans", sans-serif' fill="#000" font-weight="bold" stroke="#000" stroke-width="0.3" >0</text>
<line x1="132.95" y1="923.9" x2="132.95" y2="926.9" stroke="#000" stroke-width="1"/>
<text x="132.95" y="941" font-size="11" text-anchor="middle" font-family='"Liberation Sans", sans-serif' fill="#000" font-weight="bold" stroke="#000" stroke-width="0.3" >1</text>
<line x1="177.1" y1="923.9" x2="177.1" y2="926.9" stroke="#000" stroke-width="1"/>
<text x="177.1" y="941" font-size="11" text-anchor="middle" font-family='"Liberation Sans", sans-serif' fill="#000" font-weight="bold" stroke="#000" stroke-width="0.3" >2</text>
<line x1="221.25" y1="923.9" x2="221.25" y2="926.9" stroke="#000" stroke-width="1"/>
<text x="221.25" y="941" font-size="11" text-anchor="middle" font-family='"Liberation Sans", sans-serif' fill="#000" font-weight="bold" stroke="#000" stroke-width="0.3" >3</text>
<line x1="265.4" y1="923.9" x2="265.4" y2="926.9" stroke="#000" stroke-width="1"/>
<text x="265.4" y="941" font-size="11" text-anchor="middle" font-family='"Liberation Sans", sans-serif' fill="#000" font-weight="bold" stroke="#000" stroke-width="0.3" >4</text>
<line x1="309.55" y1="923.9" x2="309.55" y2="926.9" stroke="#000" stroke-width="1"/>
<text x="309.55" y="941" font-size="11" text-anchor="middle" font-family='"Liberation Sans", sans-serif' fill="#000" font-weight="bold" stroke="#000" stroke-width="0.3" >5</text>
<text x="187.2" y="955.8" font-size="11" text-anchor="middle" font-family='"Liberation Sans", sans-serif' fill="#000" font-weight="bold" stroke="#000" stroke-width="0.3" textLength="44.3" lengthAdjust="spacingAndGlyphs" xml:space="preserve">Time  [h]</text>
<text x="19" y="822.7" font-size="11.5" text-anchor="middle" font-family='"Liberation Sans", sans-serif' fill="#000" font-weight="bold" stroke="#000" stroke-width="0.3" textLength="69" lengthAdjust="spacingAndGlyphs" transform="rotate(-90 19 822.7)" >Insulin [U/ml]</text>
<line x1="59.3" y1="755.6" x2="75.4" y2="755.6" stroke="#000" stroke-width="1.1"/>
<circle cx="67.3" cy="755.6" r="2.3" fill="#000"/>
<text x="81.4" y="758.6" font-size="11" text-anchor="start" font-family='"Liberation Sans", sans-serif' fill="#000" font-weight="bold" stroke="#000" stroke-width="0.3" textLength="4.6" lengthAdjust="spacingAndGlyphs" >II</text>
<line x1="59.3" y1="766.3" x2="75.4" y2="766.3" stroke="#000" stroke-width="0.9" stroke-dasharray="1.2,1.2"/>
<path d="M69.7,766.3 L65.7,764.5 L65.7,768.0999999999999 Z" fill="#000"/>
<text x="82.2" y="768.7" font-size="11" text-anchor="start" font-family='"Liberation Sans", sans-serif' fill="#000" font-weight="bold" stroke="#000" stroke-width="0.3" textLength="28" lengthAdjust="spacingAndGlyphs" >IT+TT</text>
<polyline points="88.8,906.2 110.9,844.5 133,822.3 177.1,873.4 221.3,903 265.4,909.5" fill="none" stroke="#000" stroke-width="0.9" stroke-dasharray="2.5,2.2"/>
<line x1="88.8" y1="904.7" x2="88.8" y2="907.7" stroke="#000" stroke-width="0.9"/>
<line x1="86.3" y1="904.7" x2="91.3" y2="904.7" stroke="#000" stroke-width="0.9"/>
<line x1="86.3" y1="907.7" x2="91.3" y2="907.7" stroke="#000" stroke-width="0.9"/>
<circle cx="88.8" cy="906.2" r="2.3" fill="#000"/>
<line x1="110.9" y1="841.5" x2="110.9" y2="847.5" stroke="#000" stroke-width="0.9"/>
<line x1="108.4" y1="841.5" x2="113.4" y2="841.5" stroke="#000" stroke-width="0.9"/>
<line x1="108.4" y1="847.5" x2="113.4" y2="847.5" stroke="#000" stroke-width="0.9"/>
<circle cx="110.9" cy="844.5" r="2.3" fill="#000"/>
<line x1="133" y1="817.3" x2="133" y2="827.3" stroke="#000" stroke-width="0.9"/>
<line x1="130.5" y1="817.3" x2="135.5" y2="817.3" stroke="#000" stroke-width="0.9"/>
<line x1="130.5" y1="827.3" x2="135.5" y2="827.3" stroke="#000" stroke-width="0.9"/>
<circle cx="133" cy="822.3" r="2.3" fill="#000"/>
<line x1="177.1" y1="870.6" x2="177.1" y2="876.1999999999999" stroke="#000" stroke-width="0.9"/>
<line x1="174.6" y1="870.6" x2="179.6" y2="870.6" stroke="#000" stroke-width="0.9"/>
<line x1="174.6" y1="876.1999999999999" x2="179.6" y2="876.1999999999999" stroke="#000" stroke-width="0.9"/>
<circle cx="177.1" cy="873.4" r="2.3" fill="#000"/>
<line x1="221.3" y1="901" x2="221.3" y2="905" stroke="#000" stroke-width="0.9"/>
<line x1="218.8" y1="901" x2="223.8" y2="901" stroke="#000" stroke-width="0.9"/>
<line x1="218.8" y1="905" x2="223.8" y2="905" stroke="#000" stroke-width="0.9"/>
<circle cx="221.3" cy="903" r="2.3" fill="#000"/>
<line x1="265.4" y1="908.0" x2="265.4" y2="911.0" stroke="#000" stroke-width="0.9"/>
<line x1="262.9" y1="908.0" x2="267.9" y2="908.0" stroke="#000" stroke-width="0.9"/>
<line x1="262.9" y1="911.0" x2="267.9" y2="911.0" stroke="#000" stroke-width="0.9"/>
<circle cx="265.4" cy="909.5" r="2.3" fill="#000"/>
<polyline points="88.8,906.2 110.9,838 133,803.4 177.1,859 221.3,899.7 265.4,907.7" fill="none" stroke="#000" stroke-width="1"/>
<line x1="88.8" y1="904.7" x2="88.8" y2="907.7" stroke="#000" stroke-width="0.9"/>
<line x1="86.3" y1="904.7" x2="91.3" y2="904.7" stroke="#000" stroke-width="0.9"/>
<line x1="86.3" y1="907.7" x2="91.3" y2="907.7" stroke="#000" stroke-width="0.9"/>
<path d="M88.8,903.6 L91.39999999999999,906.2 L88.8,908.8000000000001 L86.2,906.2 Z" fill="#000"/>
<line x1="110.9" y1="835" x2="110.9" y2="841" stroke="#000" stroke-width="0.9"/>
<line x1="108.4" y1="835" x2="113.4" y2="835" stroke="#000" stroke-width="0.9"/>
<line x1="108.4" y1="841" x2="113.4" y2="841" stroke="#000" stroke-width="0.9"/>
<path d="M110.9,835.4 L113.5,838 L110.9,840.6 L108.30000000000001,838 Z" fill="#000"/>
<line x1="133" y1="796.9" x2="133" y2="809.9" stroke="#000" stroke-width="0.9"/>
<line x1="130.5" y1="796.9" x2="135.5" y2="796.9" stroke="#000" stroke-width="0.9"/>
<line x1="130.5" y1="809.9" x2="135.5" y2="809.9" stroke="#000" stroke-width="0.9"/>
<path d="M133,800.8 L135.6,803.4 L133,806.0 L130.4,803.4 Z" fill="#000"/>
<line x1="177.1" y1="856" x2="177.1" y2="862" stroke="#000" stroke-width="0.9"/>
<line x1="174.6" y1="856" x2="179.6" y2="856" stroke="#000" stroke-width="0.9"/>
<line x1="174.6" y1="862" x2="179.6" y2="862" stroke="#000" stroke-width="0.9"/>
<path d="M177.1,856.4 L179.7,859 L177.1,861.6 L174.5,859 Z" fill="#000"/>
<line x1="221.3" y1="897.2" x2="221.3" y2="902.2" stroke="#000" stroke-width="0.9"/>
<line x1="218.8" y1="897.2" x2="223.8" y2="897.2" stroke="#000" stroke-width="0.9"/>
<line x1="218.8" y1="902.2" x2="223.8" y2="902.2" stroke="#000" stroke-width="0.9"/>
<path d="M221.3,897.1 L223.9,899.7 L221.3,902.3000000000001 L218.70000000000002,899.7 Z" fill="#000"/>
<line x1="265.4" y1="906.2" x2="265.4" y2="909.2" stroke="#000" stroke-width="0.9"/>
<line x1="262.9" y1="906.2" x2="267.9" y2="906.2" stroke="#000" stroke-width="0.9"/>
<line x1="262.9" y1="909.2" x2="267.9" y2="909.2" stroke="#000" stroke-width="0.9"/>
<path d="M265.4,905.1 L268.0,907.7 L265.4,910.3000000000001 L262.79999999999995,907.7 Z" fill="#000"/>
<line x1="451.1" y1="815.6" x2="451.1" y2="925.2" stroke="#000" stroke-width="1.25"/>
<line x1="329.8" y1="924.6" x2="451.1" y2="924.6" stroke="#000" stroke-width="1.3"/>
<line x1="451.1" y1="815.6" x2="453.3" y2="815.6" stroke="#000" stroke-width="1"/>
<text x="456.5" y="818.66" font-size="8.5" text-anchor="start" font-family='"Liberation Sans", sans-serif' fill="#000" font-weight="bold" stroke="#000" stroke-width="0.3" textLength="13.2" lengthAdjust="spacingAndGlyphs" >200</text>
<line x1="451.1" y1="869.8" x2="453.3" y2="869.8" stroke="#000" stroke-width="1"/>
<text x="456.5" y="872.8599999999999" font-size="8.5" text-anchor="start" font-family='"Liberation Sans", sans-serif' fill="#000" font-weight="bold" stroke="#000" stroke-width="0.3" textLength="13.2" lengthAdjust="spacingAndGlyphs" >100</text>
<text x="452.9" y="927.8599999999999" font-size="8.5" text-anchor="start" font-family='"Liberation Sans", sans-serif' fill="#000" font-weight="bold" stroke="#000" stroke-width="0.3" textLength="4.5" lengthAdjust="spacingAndGlyphs" >0</text>
<rect x="340.4" y="822.6" width="39.60000000000002" height="102.0" fill="#000"/>
<rect x="399.3" y="838.6" width="39.599999999999966" height="86.0" fill="url(#chk)" stroke="#000" stroke-width="1"/>
<text x="386.8" y="780.6" font-size="11" text-anchor="middle" font-family='"Liberation Sans", sans-serif' fill="#000" font-weight="bold" stroke="#000" stroke-width="0.3" textLength="22" lengthAdjust="spacingAndGlyphs" >AUC</text>
<text x="361.6" y="936.4" font-size="9" text-anchor="middle" font-family='"Liberation Sans", sans-serif' fill="#000" font-weight="bold" stroke="#000" stroke-width="0.3" textLength="4.6" lengthAdjust="spacingAndGlyphs" >II</text>
<text x="417.5" y="936.4" font-size="9" text-anchor="middle" font-family='"Liberation Sans", sans-serif' fill="#000" font-weight="bold" stroke="#000" stroke-width="0.3" textLength="21.2" lengthAdjust="spacingAndGlyphs" >IT+TT</text>
<text x="390.3" y="813.2" font-size="16" text-anchor="middle" font-family='"Liberation Sans", sans-serif' fill="#000" stroke="#000" stroke-width="0.15" >*</text>
</g>
</svg></body></html>
